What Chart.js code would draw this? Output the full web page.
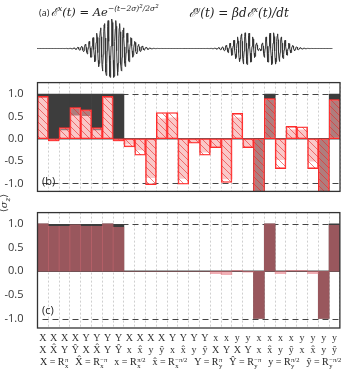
<!DOCTYPE html>
<html>
<head>
<meta charset="utf-8">
<script src="https://cdn.jsdelivr.net/npm/chart.js@4.4.0/dist/chart.umd.min.js"></script>
<style>
  body { margin: 0; width: 341px; height: 375px; background: #fff; position: relative; overflow: hidden; font-family: "Open Sans", sans-serif; color: #222; }
  .box { position: absolute; left: 0; width: 341px; }
  .txt { position: absolute; white-space: nowrap; }
  .eq { font-family: "DejaVu Serif", "Liberation Serif", serif; font-style: italic; font-size: 11.5px; }
  .eq sup { font-size: 7.5px; vertical-align: 5px; line-height: 0; }
  .eq sup sup { font-size: 5.5px; vertical-align: 3px; }
  .lbl { font-size: 11px; }
  .legend { font-family: "Liberation Serif", serif; font-size: 10px; line-height: 14px; }
  .ss { display: inline-block; vertical-align: -3px; font-size: 6.5px; line-height: 6.5px; margin-left: 0.5px; margin-right: 7px; }
  .ss span { display: block; }
</style>
</head>
<body>
<div class="box" style="top:0;height:80px"><canvas id="wave"></canvas></div>
<div class="box" style="top:70px;height:134px"><canvas id="panelB"></canvas></div>
<div class="box" style="top:200px;height:158px"><canvas id="panelC"></canvas></div>

<div class="txt lbl" style="left:39px;top:6px;font-size:9px">(a)</div>
<div class="txt eq" style="left:51px;top:4px">ℰ<sup>x</sup>(t) = Ae<sup>−(t−2σ)<sup>2</sup>/2σ<sup>2</sup></sup></div>
<div class="txt eq" style="left:189px;top:4px;font-size:12px">ℰ<sup>y</sup>(t) = βdℰ<sup>x</sup>(t)/dt</div>
<div class="txt lbl" style="left:42px;top:173px">(b)</div>
<div class="txt lbl" style="left:42px;top:302px">(c)</div>
<div class="txt" style="left:-4px;top:196px;transform:rotate(-90deg);font-family:'DejaVu Serif',serif;font-size:10px">⟨<i>σ</i><sub style="font-size:7px"><i>z</i></sub>⟩</div>
<div class="txt legend" style="left:40px;top:355px">X = R<span class="ss"><span>π</span><span>x</span></span>X̂ = R<span class="ss"><span>−π</span><span>x</span></span>x = R<span class="ss"><span>π/2</span><span>x</span></span>x̂ = R<span class="ss"><span>−π/2</span><span>x</span></span>Y = R<span class="ss"><span>π</span><span>y</span></span>Ŷ = R<span class="ss"><span>−π</span><span>y</span></span>y = R<span class="ss"><span>π/2</span><span>y</span></span>ŷ = R<span class="ss"><span>−π/2</span><span>y</span></span></div>

<script>
// gate pairs (first gate, second gate)
const firstGate  = ['X','X','X','X','Y','Y','Y','Y','X','X','X','X','Y','Y','Y','Y','x','x','y','y','x','x','x','x','y','y','y','y'];
const secondGate = ['X','X\u0302','Y','Y\u0302','X','X\u0302','Y','Y\u0302','x','x\u0302','y','y\u0302','x','x\u0302','y','y\u0302','X','Y','X','Y','x','x\u0302','y','y\u0302','x','x\u0302','y','y\u0302'];

// panel (b): dark bars as [from, to], solid and hatched bars from zero
const darkB = [[0.92,1],[0,1],[0.2,1],[0.53,1],[0.52,1],[0.2,1],[0.92,1],[0,1],
               null,null,null,null,null,null,null,null, null,null,null,null,
               [-1.2,0],[0,1],null,null,null,null,[-1.2,0],[0,1]];
const solidB = [0.92,-0.05,0.20,0.70,0.65,0.20,0.92,-0.05, -0.12,-0.25,-0.87,0.45,0.47,-0.89,-0.07,-0.30, -0.17,-0.90,0.47,-0.17, -1.2,0.90,-0.47,0.20,0.20,-0.50,-1.2,0.88];
const hatchB = [0.95,-0.05,0.25,0.70,0.65,0.25,0.95,-0.05, -0.18,-0.37,-1.03,0.59,0.59,-1.02,-0.10,-0.37, -0.20,-0.98,0.57,-0.20, -1.2,0.90,-0.67,0.28,0.27,-0.67,-1.2,0.88];

// panel (c)
const idealC = [1,0.99,0.99,0.99,0.99,0.99,1,0.99, 0,0,0,0,0,0,0,0, 0,0,0,0, -1,1,0,0,0,0,-1,1];
const dragC  = [1,0.95,0.95,0.98,0.95,0.95,1,0.93, 0,0,0,0,0,0,0,0, -0.05,-0.07,0.02,-0.02, -1,1,-0.05,0.02,0.02,-0.05,-1,0.97];

const yTicks = [-1, -0.5, 0, 0.5, 1];

// pulse drawing in (a), from the formula printed in the figure
const sigma = 13.5, period = 3.8, yAmp = 0.55;
const centerX = 75, centerY = 222.5;

const labels = firstGate.map((g, i) => [g, secondGate[i]]);

function pulse(c, deriv) {
  const pts = [];
  for (let t = c - 75; t <= c + 73; t += 0.3) {
    const u = t - c;
    const env = Math.exp(-u * u / (2 * sigma * sigma));
    let y;
    if (deriv) y = -yAmp * (u / sigma) * Math.exp(0.5) * env * Math.sin(2 * Math.PI * u / period);
    else y = env * Math.cos(2 * Math.PI * u / period);
    pts.push({x: t, y: y});
  }
  return pts;
}

function hatchPattern() {
  const c = document.createElement('canvas');
  c.width = 7; c.height = 7;
  const g = c.getContext('2d');
  g.fillStyle = 'rgba(255,255,255,0.3)';
  g.fillRect(0, 0, 7, 7);
  g.strokeStyle = 'rgba(230,40,40,0.75)';
  g.lineWidth = 0.8;
  g.beginPath();
  g.moveTo(-1, -1); g.lineTo(8, 8);
  g.moveTo(-1, 6); g.lineTo(1, 8);
  g.moveTo(6, -1); g.lineTo(8, 1);
  g.stroke();
  return g.createPattern(c, 'repeat');
}

const frame = {
  id: 'frame',
  beforeDatasetsDraw(chart) {
    const {ctx, chartArea: a, scales: {y}} = chart;
    ctx.save();
    ctx.strokeStyle = '#444';
    ctx.lineWidth = 1;
    ctx.setLineDash([6, 4]);
    [1, -1].forEach(v => {
      const py = Math.round(y.getPixelForValue(v)) + 0.5;
      ctx.beginPath(); ctx.moveTo(a.left + 5, py); ctx.lineTo(a.right, py); ctx.stroke();
    });
    ctx.setLineDash([]);
    ctx.lineWidth = 1.5;
    ctx.strokeStyle = '#555';
    const z = y.getPixelForValue(0);
    ctx.beginPath(); ctx.moveTo(a.left, z); ctx.lineTo(a.right, z); ctx.stroke();
    ctx.restore();
  },
  afterDraw(chart) {
    const {ctx, chartArea: a} = chart;
    ctx.save();
    ctx.strokeStyle = '#333';
    ctx.lineWidth = 1.3;
    ctx.strokeRect(a.left, a.top, a.right - a.left, a.bottom - a.top);
    ctx.restore();
  }
};

const barCommon = { grouped: false, barPercentage: 1, categoryPercentage: 1, borderSkipped: false };

function panelOptions(min, max, showTicks) {
  return {
    responsive: true,
    maintainAspectRatio: false,
    animation: false,
    events: [],
    layout: { padding: { top: showTicks ? 6 : 7, right: 1, bottom: showTicks ? 0 : 6 } },
    plugins: { legend: { display: false }, tooltip: { enabled: false } },
    scales: {
      x: {
        ticks: { display: showTicks, autoSkip: false, maxRotation: 0, padding: 4, color: '#333',
                 font: { family: 'Liberation Serif', size: 10, lineHeight: 1.2 } },
        grid: { offset: true, color: '#cfcfcf', drawTicks: false },
        border: { display: false, dash: [2, 2] },
        afterFit(s) { s.height = showTicks ? 30 : 0; }
      },
      y: {
        min: min, max: max,
        afterBuildTicks(s) { s.ticks = yTicks.map(v => ({ value: v })); },
        afterFit(s) { s.width = 37.5; },
        ticks: { color: '#333', padding: 6, font: { family: 'Open Sans', size: 11 },
                 callback: v => v.toFixed(1) },
        grid: { display: false },
        border: { display: false }
      }
    }
  };
}

new Chart(document.getElementById('wave'), {
  type: 'line',
  data: {
    datasets: [
      { data: pulse(centerX, false), borderColor: '#333', borderWidth: 1, pointRadius: 0 },
      { data: pulse(centerY, true), borderColor: '#333', borderWidth: 1, pointRadius: 0 }
    ]
  },
  options: {
    responsive: true, maintainAspectRatio: false, animation: false, events: [],
    layout: { padding: { top: 19, bottom: 2, left: 37, right: 4 } },
    plugins: { legend: { display: false }, tooltip: { enabled: false } },
    scales: {
      x: { type: 'linear', min: 0, max: 300, display: false },
      y: { min: -1, max: 1, display: false }
    }
  }
});

new Chart(document.getElementById('panelB'), {
  type: 'bar',
  data: {
    labels: labels,
    datasets: [
      Object.assign({ data: hatchB, backgroundColor: hatchPattern(), borderColor: '#ff2b2b', borderWidth: 1, order: 0 }, barCommon),
      Object.assign({ data: solidB, backgroundColor: 'rgba(240,80,80,0.45)', borderWidth: 0, order: 1 }, barCommon),
      Object.assign({ data: darkB, backgroundColor: '#3d3d3d', borderWidth: 0, order: 2 }, barCommon)
    ]
  },
  options: panelOptions(-1.18, 1.26, false),
  plugins: [frame]
});

new Chart(document.getElementById('panelC'), {
  type: 'bar',
  data: {
    labels: labels,
    datasets: [
      Object.assign({ data: dragC, backgroundColor: 'rgba(230,110,120,0.55)', borderWidth: 0, order: 0 }, barCommon),
      Object.assign({ data: idealC, backgroundColor: '#3d3d3d', borderWidth: 0, order: 1 }, barCommon)
    ]
  },
  options: panelOptions(-1.2, 1.24, true),
  plugins: [frame]
});
</script>
</body>
</html>
